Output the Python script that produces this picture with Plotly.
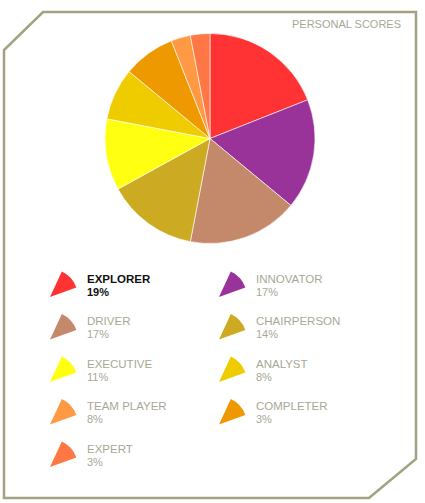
import plotly.graph_objects as go

# ---- data ----
categories = ["EXPLORER", "INNOVATOR", "DRIVER", "CHAIRPERSON", "EXECUTIVE",
              "ANALYST", "TEAM PLAYER", "COMPLETER", "EXPERT"]
scores = [19, 17, 17, 14, 11, 8, 8, 3, 3]
pie_colors = ["#FF3333", "#993399", "#C4896A", "#CCAA22", "#FFFF11",
              "#EECC00", "#EE9900", "#FF9944", "#FF7744"]
icon_colors = ["#FF3333", "#993399", "#C4896A", "#CCAA22", "#FFFF11",
               "#EECC00", "#FF9944", "#EE9900", "#FF7744"]
selected = "EXPLORER"
title = "PERSONAL SCORES"

W, H = 425, 503
FONT = "Liberation Sans, Arial, sans-serif"
GRAY = "#A8A896"
FRAME = "#A2A282"

fig = go.Figure()

# main pie
cx, cy, r = 210, 138.5, 105
fig.add_trace(go.Pie(
    labels=categories, values=scores, sort=False, direction="clockwise",
    rotation=0, textinfo="none", showlegend=False,
    marker=dict(colors=pie_colors, line=dict(color="rgba(255,255,255,0.6)", width=1)),
    domain=dict(x=[(cx - r) / W, (cx + r) / W], y=[1 - (cy + r) / H, 1 - (cy - r) / H]),
))

# legend icons (small wedges) + texts
annotations = []
icon_r = 28
for i, (cat, val) in enumerate(zip(categories, scores)):
    col, row = i % 2, i // 2
    ax = 50 if col == 0 else 219
    ay = 297 + row * 42.5
    tx = 86 if col == 0 else 255
    ty = 278.5 + row * 42.5
    fig.add_trace(go.Pie(
        labels=[cat, cat + "_"], values=[45, 315], sort=False, direction="clockwise",
        rotation=25, textinfo="none", hoverinfo="skip", showlegend=False,
        marker=dict(colors=[icon_colors[i], "rgba(0,0,0,0)"], line=dict(width=0)),
        domain=dict(x=[(ax - icon_r) / W, (ax + icon_r) / W],
                    y=[1 - (ay + icon_r) / H, 1 - (ay - icon_r) / H]),
    ))
    sel = cat == selected
    color = "#111111" if sel else GRAY
    t1 = f"<b>{cat}</b>" if sel else cat
    t2 = f"<b>{val}%</b>" if sel else f"{val}%"
    annotations.append(dict(x=tx, y=ty, xref="x", yref="y", text=t1, showarrow=False,
                            xanchor="left", yanchor="middle", borderpad=0,
                            font=dict(family=FONT, size=11.5, color=color)))
    annotations.append(dict(x=tx, y=ty + 13, xref="x", yref="y", text=t2, showarrow=False,
                            xanchor="left", yanchor="middle", borderpad=0,
                            font=dict(family=FONT, size=11, color=color)))

annotations.append(dict(x=403, y=23.5, xref="x", yref="y", text=title, showarrow=False,
                        xanchor="right", yanchor="middle",
                        font=dict(family=FONT, size=11, color=GRAY)))

frame_path = "M 43 12 L 416 12 L 416 459 L 369 498 L 4 498 L 4 50 Z"

fig.update_layout(
    width=W, height=H, margin=dict(l=0, r=0, t=0, b=0),
    paper_bgcolor="white", plot_bgcolor="white",
    xaxis=dict(range=[0, W], visible=False, fixedrange=True),
    yaxis=dict(range=[H, 0], visible=False, fixedrange=True),
    shapes=[dict(type="path", path=frame_path, xref="x", yref="y",
                 line=dict(color=FRAME, width=2.5), layer="below")],
    annotations=annotations,
)

fig.write_html("out.html", config={"displayModeBar": False},
               post_script="document.body.style.margin='0';document.body.style.overflow='hidden';")
